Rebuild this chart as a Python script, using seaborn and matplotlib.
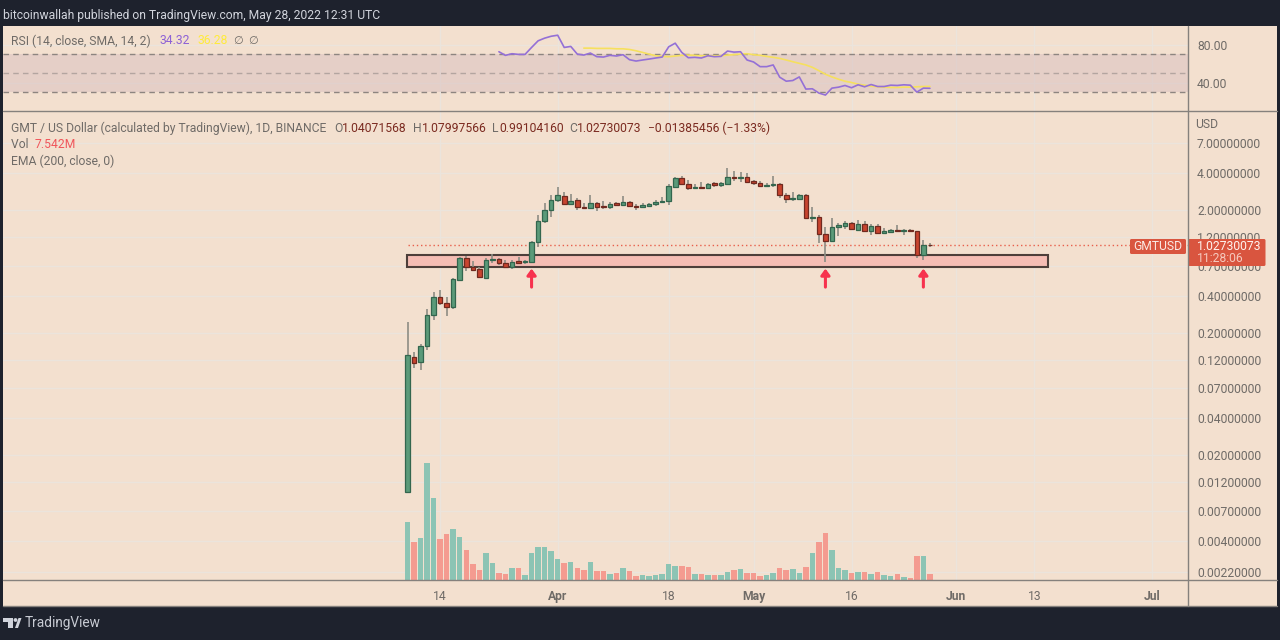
#!/usr/bin/env python3
"""GMT / US Dollar daily candles with RSI and volume, TradingView look"""

import numpy as np
import pandas as pd
import matplotlib
matplotlib.use("Agg")
import matplotlib.pyplot as plt
from matplotlib.patches import Rectangle, Polygon, Circle, FancyBboxPatch
from matplotlib.ticker import NullLocator
import seaborn as sns

# daily candles, index 0 is Mar 9 2022
opens = [.0100, .126, .115, .155, .278, .39, .348, .323, .537, .81, .686, .66, .557, .78, .80, .74, .686, .77, .75, .75,
         1.10, 1.63, 2.00, 2.42, 2.60, 2.24, 2.42, 2.12, 2.08, 2.28, 2.16, 2.12, 2.28, 2.20, 2.33, 2.16, 2.12, 2.16, 2.24, 2.33,
         2.37, 3.09, 3.65, 3.26, 3.03, 3.09, 3.03, 3.33, 3.20, 3.26, 3.72, 3.65, 3.72, 3.45, 3.33, 3.14, 3.20, 3.26, 2.65, 2.46,
         2.46, 2.65, 1.72, 1.76, 1.28, 1.12, 1.45, 1.48, 1.57, 1.37, 1.54, 1.35, 1.48, 1.30, 1.32, 1.37, 1.35, 1.37, 1.35, .86,
         1.04071568]
highs = [.244, .139, .161, .311, .429, .445, .39, .557, .83, .84, .77, .686, .81, .88, .81, .78, .78, .83, .78, 1.12,
         1.82, 2.28, 2.65, 3.09, 2.81, 2.71, 2.51, 2.28, 2.65, 2.33, 2.37, 2.33, 2.33, 2.60, 2.37, 2.24, 2.28, 2.28, 2.42, 2.56,
         3.26, 3.72, 3.79, 3.52, 3.26, 3.39, 3.33, 3.36, 3.39, 4.41, 4.17, 4.09, 4.01, 3.52, 3.45, 3.33, 3.79, 3.33, 2.76, 2.81,
         2.71, 2.71, 2.12, 1.82, 1.45, 1.72, 1.57, 1.63, 1.60, 1.66, 1.63, 1.54, 1.54, 1.43, 1.40, 1.51, 1.40, 1.40, 1.35, 1.14,
         1.07997566]
lows = [.0100, .103, .099, .144, .253, .336, .273, .311, .527, .636, .636, .568, .557, .74, .71, .686, .66, .74, .725, .75,
        1.00, 1.57, 1.76, 2.33, 2.24, 2.20, 2.00, 2.04, 2.08, 1.96, 2.04, 2.04, 2.16, 2.16, 2.12, 2.00, 2.08, 2.12, 2.16, 2.28,
        2.20, 3.09, 3.26, 2.92, 2.97, 3.03, 3.03, 3.09, 3.09, 3.20, 3.45, 3.39, 3.33, 3.20, 3.09, 3.09, 3.09, 2.51, 2.28, 2.37,
        2.42, 1.70, 1.60, 1.08, .75, 1.12, 1.23, 1.40, 1.37, 1.35, 1.32, 1.25, 1.28, 1.30, 1.30, 1.32, 1.25, 1.32, .81, .78,
        .99104160]
closes = [.131, .113, .155, .278, .39, .348, .323, .547, .81, .686, .648, .568, .78, .80, .74, .686, .75, .74, .765, 1.10,
          1.63, 2.00, 2.42, 2.65, 2.24, 2.37, 2.12, 2.08, 2.28, 2.12, 2.12, 2.24, 2.20, 2.33, 2.16, 2.12, 2.20, 2.24, 2.33, 2.37,
          3.14, 3.65, 3.26, 3.03, 3.09, 3.03, 3.26, 3.20, 3.33, 3.72, 3.65, 3.72, 3.39, 3.33, 3.14, 3.20, 3.26, 2.65, 2.46, 2.51,
          2.65, 1.72, 1.76, 1.28, 1.12, 1.45, 1.51, 1.57, 1.40, 1.54, 1.35, 1.48, 1.30, 1.35, 1.37, 1.35, 1.37, 1.35, .86, 1.04,
          1.02730073]
# volume in millions
volumes = [72.9, 47, 52, 146, 103, 51, 57, 64, 54, 37, 20, 12.5, 34, 21, 8.8, 7.9, 15, 14.6, 6.6, 34,
           41, 41, 36, 26, 21, 22, 15, 12, 22, 11, 11, 7.9, 8.8, 15, 11, 5.4, 6.6, 5.4, 6.3, 7.9,
           20, 18, 17.5, 16, 7.5, 7.5, 6.3, 6.3, 6.3, 10, 12.5, 14, 9.1, 8.4, 5.4, 5.9, 8.4, 15, 13, 14,
           9.1, 16, 34, 48, 59, 38, 15, 13, 8.4, 9.6, 10, 7.5, 10, 5.9, 4.6, 7.5, 4.1, 2.5, 30, 30,
           7.542]
# RSI from day 14, its SMA from day 27
rsi_values = [72.8, 69.0, 70.7, 70.0, 70.0, 77.3, 84.3, 87.1, 89.1, 90.2, 77.3, 78.4, 70.3, 69.3, 71.4, 67.6, 67.2, 69.0, 68.3, 69.7,
              64.4, 63.0, 64.1, 65.1, 66.2, 67.2, 78.0, 81.8, 72.1, 66.5, 66.9, 66.2, 68.6, 67.6, 67.9, 73.5, 72.4, 72.8, 64.1, 62.0,
              57.1, 57.1, 58.9, 46.0, 41.8, 42.5, 46.3, 33.5, 33.8, 29.3, 27.2, 34.5, 35.5, 37.3, 34.9, 38.0, 35.9, 38.3, 36.2, 36.2,
              37.6, 37.3, 38.0, 37.6, 30.3, 34.5, 34.32]
rsi_sma = [76.6, 76.6, 76.3, 76.3, 76.3, 75.9, 75.9, 75.2, 73.8, 72.1, 70.3, 68.6, 67.9, 67.6, 68.3, 69.0, 69.3, 69.0, 68.6, 68.6,
           68.6, 68.6, 69.3, 69.7, 70.3, 70.7, 69.7, 69.0, 67.9, 66.9, 65.8, 64.1, 62.3, 60.6, 58.9, 56.4, 52.9, 49.1, 46.3, 43.9,
           41.8, 40.4, 38.7, 37.6, 36.6, 35.9, 35.5, 35.2, 35.2, 35.5, 35.5, 35.9, 36.2, 36.28]

price_ticks = [7, 4, 2, 1.2, 0.7, 0.4, 0.2, 0.12, 0.07, 0.04, 0.02, 0.012, 0.007, 0.004, 0.0022]
rsi_ticks = [80, 40]
tick_days = [5, 23, 40, 53, 68, 84, 96, 114]
tick_labels = ["14", "Apr", "18", "May", "16", "Jun", "13", "Jul"]
month_labels = ["Apr", "May", "Jun", "Jul"]
arrow_days = [19, 64, 79]
zone_low, zone_high = 0.686, 0.859
zone_days = (-0.03, 98.05)
last_price = 1.02730073

BG = "#f3e0cf"
DARK = "#1e222d"
GRID = "#ebe4dc"
LINE = "#85817d"
TEXT = "#6f6b67"
UP, UP_EDGE, DOWN, DOWN_EDGE = "#5b9a79", "#33664e", "#c8442f", "#70291f"
VOL_UP, VOL_DOWN = "#8cc4b4", "#f49b90"
TAG = "#d9553f"
FS = 8.7

W, H = 1280, 640
PLOT_X0, PLOT_X1 = 3, 1187.5
DAY_PX, DAY0_PX = 6.53, 407.5
PX_PER_DECADE = 122.5


def px_axes(fig, x0, y0, x1, y1, **kw):
    return fig.add_axes([x0 / W, 1 - y1 / H, (x1 - x0) / W, (y1 - y0) / H], **kw)


def draw_run(ax, renderer, x, y, parts, **kw):
    # lay out coloured text pieces one after the other
    for s, color in parts:
        t = ax.text(x, y, s, color=color, va="center", ha="left", **kw)
        x = t.get_window_extent(renderer).x1


def main():
    sns.set_theme(style="white")
    plt.rcParams["font.family"] = ["Roboto", "DejaVu Sans"]

    fig = plt.figure(figsize=(W / 100, H / 100), dpi=100, facecolor=DARK)
    xlim = ((PLOT_X0 - DAY0_PX) / DAY_PX, (PLOT_X1 - DAY0_PX) / DAY_PX)

    back = px_axes(fig, 3, 26, 1277, 606, facecolor=BG, zorder=0)
    back.set_xticks([])
    back.set_yticks([])
    for s in back.spines.values():
        s.set_visible(False)

    # RSI pane
    rsi_ax = px_axes(fig, PLOT_X0, 26, PLOT_X1, 111, facecolor="none", zorder=1)
    rsi_ax.grid(True, color=GRID, lw=1)
    rsi_ax.set_axisbelow(True)
    rsi_ax.axhspan(30, 70, color="#d9bfc0", alpha=0.5, lw=0, zorder=0.8)
    for level, c in [(70, "#8d8580"), (50, "#b3a5a0"), (30, "#8d8580")]:
        rsi_ax.axhline(level, color=c, lw=1, ls=(0, (4, 3)), zorder=1)
    sns.lineplot(x=np.arange(27, 81), y=rsi_sma, ax=rsi_ax, color="#f6e05e", lw=1.2, zorder=2)
    sns.lineplot(x=np.arange(14, 81), y=rsi_values, ax=rsi_ax, color="#9470d6", lw=1.2, zorder=3)
    rsi_ax.set_xlim(xlim)
    rsi_ax.set_ylim(70 - (111 - 54.4) / 0.95, 70 + (54.4 - 26) / 0.95)
    rsi_ax.set_xticks(tick_days)
    rsi_ax.set_xticklabels([])
    rsi_ax.set_yticks(rsi_ticks)
    rsi_ax.set_yticklabels([f"{v:.2f}" for v in rsi_ticks])
    rsi_ax.yaxis.tick_right()
    rsi_ax.tick_params(axis="both", length=0, pad=6.8, labelsize=FS, labelcolor=TEXT)
    for s in rsi_ax.spines.values():
        s.set_visible(False)

    # price pane
    ax = px_axes(fig, PLOT_X0, 112, PLOT_X1, 580, facecolor="none", zorder=1)
    ax.set_yscale("log")
    days = np.arange(len(closes))
    o, h, l, c = map(np.array, (opens, highs, lows, closes))
    rising = c >= o

    ax.vlines(days, l, h, color="#8d8d84", lw=1.2, zorder=3)
    ax.add_patch(Rectangle((zone_days[0], zone_low), zone_days[1] - zone_days[0], zone_high - zone_low,
                           facecolor="#f5bdb4", edgecolor="#4d3f3a", lw=1.5, zorder=2))
    body_low = np.minimum(o, c)
    body_size = np.abs(c - o)
    ax.bar(days[rising], body_size[rising], bottom=body_low[rising], width=0.7,
           color=UP, edgecolor=UP_EDGE, lw=0.9, zorder=4)
    ax.bar(days[~rising], body_size[~rising], bottom=body_low[~rising], width=0.7,
           color=DOWN, edgecolor=DOWN_EDGE, lw=0.9, zorder=4)
    ax.hlines(last_price, 0, xlim[1], color="#e8604c", lw=1, ls=(0, (1, 2)), zorder=1.5)

    for d in arrow_days:
        ax.annotate("", xy=(d, 0.665), xytext=(d, 0.47),
                    arrowprops=dict(arrowstyle="-|>,head_width=0.22,head_length=0.3", color="#f7324e",
                                    lw=2.2, shrinkA=0, shrinkB=0), zorder=5)

    ax.set_xlim(xlim)
    ax.set_ylim(10 ** ((246.93 - 580) / PX_PER_DECADE), 10 ** ((246.93 - 112) / PX_PER_DECADE))
    ax.grid(True, color=GRID, lw=1)
    ax.set_axisbelow(True)
    ax.set_yticks(price_ticks)
    ax.set_yticklabels([f"{v:.8f}" for v in price_ticks])
    ax.yaxis.set_minor_locator(NullLocator())
    ax.yaxis.tick_right()
    ax.set_xticks(tick_days)
    ax.set_xticklabels(tick_labels)
    ax.tick_params(axis="y", length=0, pad=6.8, labelsize=FS, labelcolor=TEXT)
    ax.tick_params(axis="x", length=0, pad=7, labelsize=FS, labelcolor=TEXT)
    for lab in ax.get_xticklabels():
        if lab.get_text() in month_labels:
            lab.set_fontweight("bold")
    for s in ax.spines.values():
        s.set_visible(False)

    # volume sits on the same time scale, on top of the price grid
    vol_df = pd.DataFrame({"day": days, "vol": volumes, "side": np.where(rising, "up", "down")})
    vol_ax = px_axes(fig, PLOT_X0, 112, PLOT_X1, 580, facecolor="none", zorder=2)
    sns.barplot(data=vol_df, x="day", y="vol", hue="side", palette={"up": VOL_UP, "down": VOL_DOWN},
                native_scale=True, dodge=False, width=0.84, saturation=1, legend=False,
                linewidth=0, edgecolor="none", ax=vol_ax)
    vol_ax.set_xlim(xlim)
    vol_ax.set_ylim(0, 468 * 1.25)
    vol_ax.axis("off")

    # header, legends, separators and price tags in pixel coordinates
    top = px_axes(fig, 0, 0, W, H, facecolor="none", zorder=5)
    top.set_xlim(0, W)
    top.set_ylim(H, 0)
    top.axis("off")
    rend = fig.canvas.get_renderer()

    top.plot([3, 1277], [111, 111], color=LINE, lw=1)
    top.plot([3, 1277], [580, 580], color=LINE, lw=1)
    top.plot([3, 1277], [606, 606], color=LINE, lw=1)
    top.plot([1187.5, 1187.5], [26, 606], color=LINE, lw=1)

    top.text(3, 15, "bitcoinwallah published on TradingView.com, May 28, 2022 12:31 UTC",
             color="#d1d4dc", fontsize=FS, va="center")

    draw_run(top, rend, 11, 41, [("RSI (14, close, SMA, 14, 2)", TEXT)], fontsize=FS)
    draw_run(top, rend, 159, 41, [("34.32", "#8d62d6")], fontsize=FS)
    draw_run(top, rend, 197, 41, [("36.28", "#ffeb3b")], fontsize=FS)
    top.text(238, 41, "∅", color=TEXT, fontsize=8, va="center", ha="center")
    top.text(253, 41, "∅", color=TEXT, fontsize=8, va="center", ha="center")

    draw_run(top, rend, 11, 128, [("GMT / US Dollar (calculated by TradingView), 1D, BINANCE", TEXT)], fontsize=FS)
    val = "#7b2a20"
    draw_run(top, rend, 334, 128, [("O", TEXT), ("1.04071568", val), ("  H", TEXT), ("1.07997566", val),
                                   ("  L", TEXT), ("0.99104160", val), ("  C", TEXT), ("1.02730073", val),
                                   ("  −0.01385456 (−1.33%)", val)], fontsize=FS)
    draw_run(top, rend, 11, 144, [("Vol  ", TEXT), ("7.542M", "#f0555a")], fontsize=FS)
    draw_run(top, rend, 11, 161, [("EMA (200, close, 0)", TEXT)], fontsize=FS)
    top.text(1195, 125, "USD", color=TEXT, fontsize=FS, va="center")

    top.add_patch(FancyBboxPatch((1131, 240), 54, 13, boxstyle="round,pad=1,rounding_size=1.5",
                                 facecolor=TAG, edgecolor="none"))
    top.add_patch(FancyBboxPatch((1189, 240), 75.5, 25, boxstyle="round,pad=1,rounding_size=1.5",
                                 facecolor=TAG, edgecolor="none"))
    top.text(1158, 246.5, "GMTUSD", color="#fbe9e4", fontsize=FS, va="center", ha="center")
    top.text(1197, 246, "1.02730073", color="#fff3ee", fontsize=FS, va="center")
    top.text(1197, 259, "11:28:06", color="#f6c9bd", fontsize=FS, va="center")

    # logo and footer
    logo = "#d1d4dc"
    top.add_patch(Polygon([(3, 618), (13, 618), (13, 628), (8, 628), (8, 622), (3, 622)], facecolor=logo, edgecolor="none"))
    top.add_patch(Circle((15.5, 620), 1.9, facecolor=logo, edgecolor="none"))
    top.add_patch(Polygon([(15, 628), (18.5, 618), (21.5, 618), (18, 628)], facecolor=logo, edgecolor="none"))
    top.text(25, 623.5, "TradingView", color="#c8cbd3", fontsize=9.8, va="center")

    fig.savefig("out.png", dpi=100, facecolor=DARK)


if __name__ == "__main__":
    main()
